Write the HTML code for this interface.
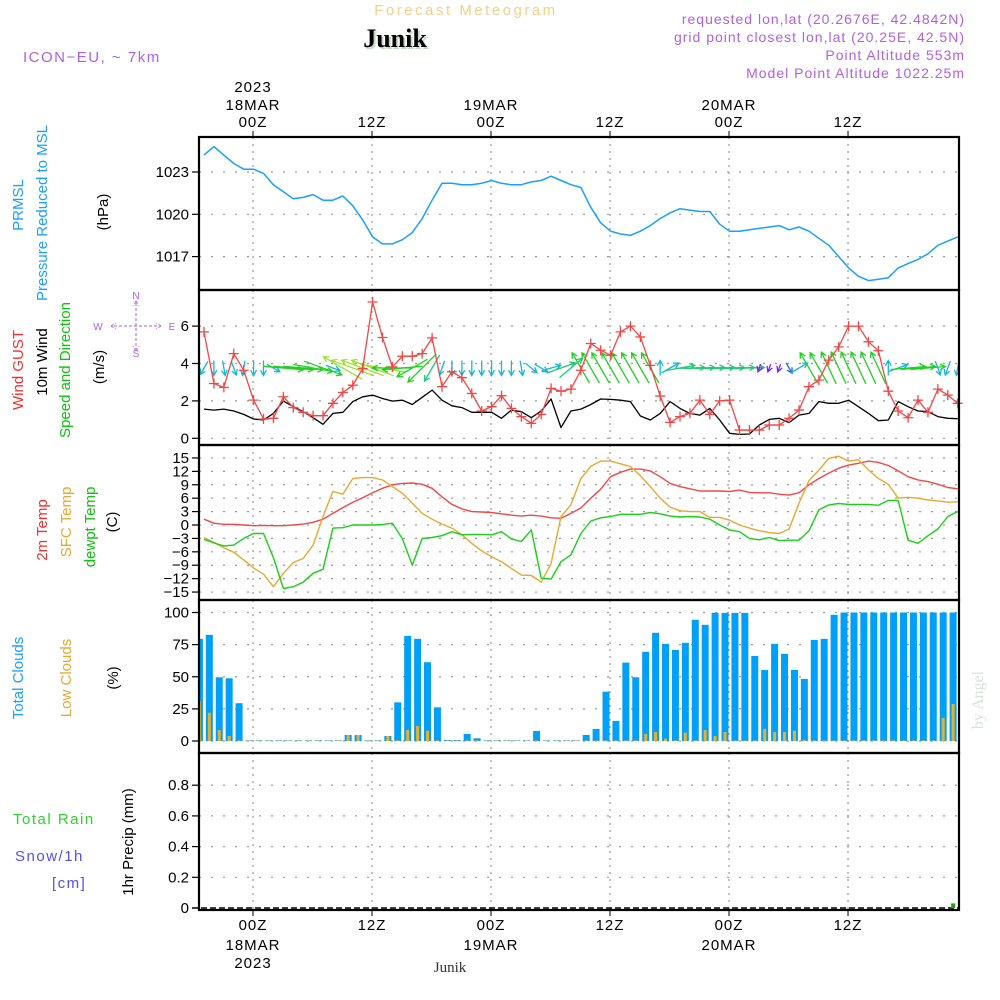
<!DOCTYPE html>
<html><head><meta charset="utf-8"><style>
html,body{margin:0;padding:0;background:#fff;}
svg{display:block;font-family:"Liberation Sans",sans-serif;}
</style></head><body>
<svg id="chart" width="1000" height="1000" viewBox="0 0 1000 1000" xmlns="http://www.w3.org/2000/svg">
<g>
<text x="466" y="15" font-size="15" fill="#f5cf8a" text-anchor="middle" letter-spacing="2.5">Forecast Meteogram</text>
<text x="397" y="49" font-size="26" font-weight="bold" font-family="Liberation Serif,serif" fill="#c8d8c8" text-anchor="middle">Junik</text>
<text x="395" y="47" font-size="26" font-weight="bold" font-family="Liberation Serif,serif" fill="#000" text-anchor="middle">Junik</text>
<text x="23" y="62" font-size="15" fill="#b060e0" letter-spacing="1.5">ICON−EU, ~ 7km</text>
<text x="965" y="24" font-size="14" fill="#b060e0" text-anchor="end" letter-spacing="1">requested lon,lat (20.2676E, 42.4842N)</text>
<text x="965" y="42" font-size="14" fill="#b060e0" text-anchor="end" letter-spacing="1">grid point closest lon,lat (20.25E, 42.5N)</text>
<text x="965" y="60" font-size="14" fill="#b060e0" text-anchor="end" letter-spacing="1">Point Altitude 553m</text>
<text x="965" y="78" font-size="14" fill="#b060e0" text-anchor="end" letter-spacing="1">Model Point Altitude 1022.25m</text>
</g>
<g id="labels" font-size="15">
<text transform="translate(23,205) rotate(-90)" fill="#1a9fff" text-anchor="middle">PRMSL</text>
<text transform="translate(47,213) rotate(-90)" fill="#1a9fff" text-anchor="middle">Pressure Reduced to MSL</text>
<text transform="translate(108,212) rotate(-90)" fill="#000" text-anchor="middle">(hPa)</text>
<text transform="translate(23,370) rotate(-90)" fill="#f03030" text-anchor="middle">Wind GUST</text>
<text transform="translate(47,362) rotate(-90)" fill="#000" text-anchor="middle">10m Wind</text>
<text transform="translate(70,370) rotate(-90)" fill="#10c010" text-anchor="middle">Speed and Direction</text>
<text transform="translate(104,367) rotate(-90)" fill="#000" text-anchor="middle">(m/s)</text>
<text transform="translate(47,530) rotate(-90)" fill="#f03030" text-anchor="middle">2m Temp</text>
<text transform="translate(71,522) rotate(-90)" fill="#e8a830" text-anchor="middle">SFC Temp</text>
<text transform="translate(95,527) rotate(-90)" fill="#10c010" text-anchor="middle">dewpt Temp</text>
<text transform="translate(117,522) rotate(-90)" fill="#000" text-anchor="middle">(C)</text>
<text transform="translate(23,678) rotate(-90)" fill="#1a9fff" text-anchor="middle">Total Clouds</text>
<text transform="translate(71,678) rotate(-90)" fill="#e8a830" text-anchor="middle">Low Clouds</text>
<text transform="translate(118,678) rotate(-90)" fill="#000" text-anchor="middle">(%)</text>
<text transform="translate(133,842) rotate(-90)" fill="#000" text-anchor="middle">1hr Precip (mm)</text>
<text x="13" y="824" fill="#30d030" letter-spacing="1.5">Total   Rain</text>
<text x="15" y="861" fill="#5050f0" letter-spacing="1.5">Snow/1h</text>
<text x="52" y="888" fill="#5050f0" letter-spacing="1.5">[cm]</text>
<text transform="translate(983,700) rotate(-90)" fill="#d8e4d8" font-family="Liberation Serif,serif" text-anchor="middle" font-size="16">by Angel</text>
</g>
<g id="compass" fill="#b060e0" stroke="#b060e0" font-size="10">
<text x="136" y="299" text-anchor="middle" stroke="none">N</text>
<text x="136" y="357" text-anchor="middle" stroke="none">S</text>
<text x="98" y="330" text-anchor="middle" stroke="none">W</text>
<text x="172" y="330" text-anchor="middle" stroke="none">E</text>
<path d="M136 303V349M114 326H158M111 326l5-3M111 326l5 3M161 326l-5-3M161 326l-5 3M136 301l-3 5M136 301l3 5M136 351l-3-5M136 351l3-5" fill="none" stroke-width="1" stroke-dasharray="3 2"/>
</g>
<g id="plot"></g>
</svg>
<script>
const hoursStart = -5;
const dayTicks = [0, 12, 24, 36, 48, 60];
const topTickLabels = ["00Z","12Z","00Z","12Z","00Z","12Z"];
const topDateLabels = ["18MAR","","19MAR","","20MAR",""];
const pressureTicks = [1017, 1020, 1023];
const windTicks = [0, 2, 4, 6];
const tempTicks = [-15,-12,-9,-6,-3,0,3,6,9,12,15];
const cloudTicks = [0, 25, 50, 75, 100];
const precipTicks = [0, 0.2, 0.4, 0.6, 0.8];

const pressure = [1024.2,1024.8,1024.2,1023.6,1023.2,1023.2,1022.9,1022.1,1021.6,1021.1,1021.2,1021.4,1021.0,1021.0,1021.3,1020.6,1019.6,1018.4,1017.9,1017.9,1018.2,1018.7,1019.7,1021.0,1022.2,1022.2,1022.1,1022.1,1022.2,1022.4,1022.2,1022.1,1022.1,1022.3,1022.4,1022.7,1022.4,1022.1,1021.9,1020.5,1019.4,1018.8,1018.6,1018.5,1018.8,1019.2,1019.7,1020.1,1020.4,1020.3,1020.2,1020.2,1019.3,1018.8,1018.8,1018.9,1019.0,1019.1,1019.2,1018.9,1019.1,1018.8,1018.3,1017.8,1017.0,1016.2,1015.6,1015.3,1015.4,1015.5,1016.2,1016.5,1016.8,1017.2,1017.8,1018.1,1018.4];

const windGust = [5.69,2.93,2.72,4.53,3.64,2.04,1.03,1.07,2.22,1.64,1.39,1.21,1.21,1.87,2.45,2.84,3.73,7.29,5.39,3.82,4.39,4.39,4.53,5.37,2.76,3.56,3.24,2.40,1.46,1.69,2.28,1.6,1.16,0.8,1.28,2.67,2.52,2.63,3.64,5.07,4.71,4.44,5.69,6.0,5.42,3.9,2.26,0.85,1.16,1.33,2.04,1.28,2.0,2.04,0.44,0.44,0.44,0.71,0.71,1.07,1.51,2.76,3.11,4.18,4.89,6.0,6.0,5.16,4.68,2.52,1.46,1.1,2.04,1.39,2.63,2.31,1.87];
const windSpeed = [1.56,1.51,1.56,1.46,1.28,1.03,0.98,1.33,1.99,1.69,1.42,1.1,0.75,1.33,1.39,1.96,2.22,2.31,2.13,1.99,2.04,1.81,2.19,2.58,2.04,1.74,1.64,1.39,1.39,1.39,1.07,1.51,1.42,1.1,1.46,2.1,0.57,1.46,1.56,1.81,2.1,2.08,2.04,1.96,1.19,0.98,1.33,1.96,1.6,1.33,1.24,1.6,0.98,0.27,0.21,0.23,0.71,1.01,1.07,0.84,1.24,1.33,1.96,1.87,1.87,2.04,1.69,1.33,0.94,0.98,1.96,1.69,1.46,1.42,1.16,1.07,1.05];
const windDirTo = [210,180,170,160,190,180,180,120,95,95,95,100,110,110,300,290,290,290,280,270,265,240,225,210,200,180,180,180,180,180,180,180,170,130,120,75,70,50,330,330,330,330,330,330,330,330,0,60,80,88,88,88,88,88,88,88,200,200,200,150,60,330,330,335,335,335,335,335,335,0,70,85,85,85,160,200,190];
const windArrow = [1.5,1.5,1.5,1.5,1.5,1.5,1.5,1.5,4,4,4,4,4,1.5,4.5,4.5,4.5,4.5,4.5,4,4,3.5,4,3,1.5,1.5,1.5,1.5,1.5,1.5,1.5,1.5,1.5,1.5,1.5,2,3,3,3.5,3.5,3.5,3.5,3.5,3.5,3.5,3.5,1.5,2,3,3,3,3,3,3,3,3,0.8,0.8,0.8,1.2,2,3.5,3.5,3.5,3.5,3.5,3.5,3.5,3.5,1.5,2,3.5,3.5,3.5,1.5,1.5,1.5];

const temp2m = [1.3,0.4,0.15,0.15,0,-0.15,-0.1,-0.15,-0.15,0,0.2,0.6,1.3,2.6,3.9,5.1,6.1,7.2,8.2,9.0,9.3,9.4,9.1,8.2,6.3,4.6,3.6,3.0,2.9,2.8,2.5,2.2,2.0,2.2,2.0,1.6,1.5,2.6,3.8,6.0,8.0,10.8,11.8,12.5,12.5,12.1,10.8,9.3,8.6,8.1,7.6,7.6,7.6,7.5,7.8,7.3,7.2,7.2,6.9,6.7,7.2,9.0,10.4,11.6,12.7,13.4,13.8,14.3,14.0,13.3,12.1,10.8,10.1,9.7,9.1,8.4,8.1,7.5].slice(0,77);
const tempSfc = [-2.8,-3.9,-5.1,-6.1,-7.8,-9.6,-11.0,-13.8,-10.8,-8.4,-7.5,-4.5,1.9,7.5,6.9,10.4,10.6,10.6,10.1,8.6,7.1,4.9,2.6,1.3,0.2,-0.7,-2.2,-4.1,-5.8,-7.1,-8.2,-9.7,-11.2,-11.3,-12.8,-8.6,1.9,4.5,10.4,13.1,14.3,14.3,13.7,13.1,11.0,8.6,6.0,4.0,3.2,3.0,3.0,1.7,1.7,1.1,0,-0.7,-1.3,-1.7,-1.9,-0.9,4.9,9.9,12.3,14.9,15.4,14.3,14.6,12.3,10.4,9.1,6.0,6.2,6.0,5.6,5.4,5.1,5.2];
const tempDew = [-3.2,-4.0,-4.7,-4.5,-3.0,-1.9,-1.9,-7.3,-14.2,-13.8,-12.8,-10.8,-9.9,-0.7,-0.6,0,0,0,0.1,0.4,-3.1,-9.0,-3.0,-2.8,-2.4,-1.5,-2.2,-2.1,-2.1,-2.2,-1.5,-3.1,-3.7,-1.1,-11.9,-12.1,-8.2,-6.7,-1.9,0.9,1.6,1.9,2.4,2.4,2.4,2.8,2.5,2.0,1.8,1.9,1.8,1.3,0,-1.1,-1.5,-3.0,-3.3,-2.8,-3.5,-3.4,-3.4,-1.3,3.4,4.5,4.8,4.6,4.6,4.6,4.4,5.5,5.5,-3.4,-4.1,-2.4,-0.9,1.9,3.0];

const cloudTotal = [79.5,82.6,49.6,48.8,29.4,0.5,0.5,0.5,0.5,0.5,0.5,0.5,0.5,0.5,0.5,4.7,4.7,0.5,0.5,3.9,30.1,81.8,79.5,61.3,26.2,0.8,0.8,5.5,2.1,0.5,0.5,0.5,0.5,0.5,7.8,0.5,0.5,0.5,0.5,4.7,9.4,38.4,15.6,61,49.6,69.4,84.2,75.6,70.9,76.4,94.3,90.4,99.7,99.7,99.7,99.7,66.2,55.3,75.6,67.8,55.3,48.3,78.7,79.5,98.2,100,100,100,100,100,100,100,100,100,100,100,100];
const cloudLow = [31,22,8.6,3.9,0.5,0.5,0.5,0.5,0.5,0.5,0.5,0.5,0.5,0.5,0.5,4.7,4.7,0.5,0.5,3.9,0.5,8.6,11.7,8,0.5,0.5,0.5,0.5,0.5,0.5,0.5,0.5,0.5,0.5,0.5,0.5,0.5,0.5,0.5,0.5,0.5,0.5,0.5,0.5,0.5,5.5,7,1.8,0.5,6.5,0.5,8.6,3.9,7,0.5,0.5,0.5,9.4,7,7,8,1,0.5,0.5,0.5,0.5,0.5,0.5,0.5,0.5,0.5,0.5,0.5,0.5,0.5,18,28.8];
const precip = new Array(77).fill(0);
precip[76] = 0.03;

const X0 = 199, X1 = 959;
const tX = h => 253 + h * 9.917;
const lineX = i => tX(hoursStart + i) + 0.6;
const barX = i => tX(hoursStart + i) - 4.0;
const panels = {
  p:{top:137,bot:290}, w:{top:290,bot:445}, t:{top:445,bot:600}, c:{top:600,bot:753}, r:{top:753,bot:910}
};
const yP = v => 172 + (1023 - v) * 14.1;
const yW = v => 438.3 - v * 18.7;
const yT = v => 525 - v * 4.47;
const yC = v => 741 - v * 1.285;
const yR = v => 908 - v * 153.5;

const NS = "http://www.w3.org/2000/svg";
const plot = document.getElementById("plot");
function mk(tag, attrs, parent) {
  const e = document.createElementNS(NS, tag);
  for (const k in attrs) e.setAttribute(k, attrs[k]);
  (parent || plot).appendChild(e);
  return e;
}
function grp(name) {
  const g = mk("g", {});
  
  
  return g;
}

const grid = grp("gridlines");
for (const key in panels) {
  const P = panels[key];
  dayTicks.forEach(h => {
    const l = mk("line", {x1:tX(h), x2:tX(h), y1:P.top, y2:P.bot, stroke:"#999", "stroke-width":1.2, "stroke-dasharray":"2 5"}, grid);
    
    
  });
}
function hgrid(ticks, yf, fmt, name) {
  const g = grp(name);
  ticks.forEach(v => {
    const y = yf(v);
    const l = mk("line", {x1:X0, x2:X1, y1:y, y2:y, stroke:"#999", "stroke-width":1.2, "stroke-dasharray":"2 10"}, g);
    
    
    const t = mk("line", {x1:X0-7, x2:X0, y1:y, y2:y, stroke:"#000", "stroke-width":1.2}, g);
    
    
    const tx = mk("text", {x:X0-10, y:y+5, "font-size":15, "text-anchor":"end", fill:"#000"}, g);
    tx.textContent = fmt(v);
    
    
  });
}
hgrid(pressureTicks, yP, v => v, "pressure-y-axis");
hgrid(windTicks, yW, v => v, "wind-y-axis");
hgrid(tempTicks, yT, v => (v < 0 ? "−" + (-v) : v), "temp-y-axis");
hgrid(cloudTicks, yC, v => v, "cloud-y-axis");
hgrid(precipTicks.slice(1), yR, v => v.toFixed(1), "precip-y-axis");
{
  const g = grp("precip-zero");
  const t = mk("text", {x:X0-10, y:yR(0)+5, "font-size":15, "text-anchor":"end"}, g);
  t.textContent = "0";
  
  
  const l = mk("line", {x1:X0-7, x2:X1, y1:yR(0), y2:yR(0), stroke:"#000", "stroke-width":1.5, "stroke-dasharray":"6 3"}, g);
  
  
}

const tax = grp("time-axis");
dayTicks.forEach((h, k) => {
  const x = tX(h);
  const a = mk("text", {x:x, y:127, "font-size":15, "text-anchor":"middle", "letter-spacing":1}, tax);
  a.textContent = topTickLabels[k];
  
  
  const b = mk("text", {x:x, y:930, "font-size":15, "text-anchor":"middle", "letter-spacing":1}, tax);
  b.textContent = topTickLabels[k];
  
  
  mk("line", {x1:x, x2:x, y1:131, y2:137, stroke:"#000"}, tax);
  mk("line", {x1:x, x2:x, y1:910, y2:916, stroke:"#000"}, tax);
  if (topDateLabels[k]) {
    const c = mk("text", {x:x, y:110, "font-size":15, "text-anchor":"middle", "letter-spacing":1}, tax);
    c.textContent = topDateLabels[k];
    
    
    const d = mk("text", {x:x, y:950, "font-size":15, "text-anchor":"middle", "letter-spacing":1}, tax);
    d.textContent = topDateLabels[k];
    
    
  }
});
{
  const y1 = mk("text", {x:tX(0), y:92, "font-size":15, "text-anchor":"middle", "letter-spacing":1}, tax);
  y1.textContent = "2023";
  
  
  const y2 = mk("text", {x:tX(0), y:968, "font-size":15, "text-anchor":"middle", "letter-spacing":1}, tax);
  y2.textContent = "2023";
  
  
  const j = mk("text", {x:450, y:972, "font-size":15, "text-anchor":"middle", "font-family":"Liberation Serif,serif", fill:"#333"}, tax);
  j.textContent = "Junik";
  
  
}

function polyline(arr, xf, yf, color, name, w) {
  const pts = arr.map((v, i) => xf(i).toFixed(1) + "," + yf(v).toFixed(1)).join(" ");
  const p = mk("polyline", {points:pts, fill:"none", stroke:color, "stroke-width":w || 1.4, "stroke-linejoin":"round"});
  
  
  return p;
}

const defs = mk("defs", {});
const cp = mk("clipPath", {id:"clip"}, defs);
mk("rect", {x:X0, y:137, width:X1-X0, height:773}, cp);

polyline(pressure, lineX, yP, "#1a9fff", "pressure-line", 1.5);

const arrows = grp("wind-arrows");
function arrowColor(s) {
  if (s < 1) return "#8020e0";
  if (s < 1.4) return "#2060f0";
  if (s < 2.2) return "#18b8d0";
  if (s < 3.2) return "#20c878";
  if (s < 4.2) return "#20d020";
  return "#a0e030";
}
windDirTo.forEach((d, i) => {
  const cx = lineX(i), cy = 368;
  const L = windArrow[i] * 10;
  const rad = d * Math.PI / 180;
  const dx = Math.sin(rad) * L, dy = -Math.cos(rad) * L;
  const x1 = cx - dx / 2, y1 = cy - dy / 2, x2 = cx + dx / 2, y2 = cy + dy / 2;
  const hl = 6, ha = 0.5;
  const back = Math.atan2(-dy, -dx);
  const hx1 = x2 + hl * Math.cos(back + ha), hy1 = y2 + hl * Math.sin(back + ha);
  const hx2 = x2 + hl * Math.cos(back - ha), hy2 = y2 + hl * Math.sin(back - ha);
  const a = mk("path", {d:`M${x1.toFixed(1)} ${y1.toFixed(1)}L${x2.toFixed(1)} ${y2.toFixed(1)}M${hx1.toFixed(1)} ${hy1.toFixed(1)}L${x2.toFixed(1)} ${y2.toFixed(1)}L${hx2.toFixed(1)} ${hy2.toFixed(1)}`, fill:"none", stroke:arrowColor(windArrow[i]), "stroke-width":1.3, "clip-path":"url(#clip)"}, arrows);
  
  
});

polyline(windSpeed, lineX, yW, "#000", "mean-wind-line", 1.3);
polyline(windGust, lineX, yW, "#f04848", "wind-gust-line", 1.3);
const gm = grp("gust-markers");
windGust.forEach((v, i) => {
  const x = lineX(i), y = yW(v);
  const m = mk("path", {d:`M${x-5} ${y}H${x+5}M${x} ${y-5}V${y+5}`, stroke:"#f04848", "stroke-width":1.3}, gm);
  
  
});

polyline(temp2m, lineX, yT, "#f04848", "2m-temp-line", 1.4);
polyline(tempSfc, lineX, yT, "#e8a830", "sfc-temp-line", 1.4);
polyline(tempDew, lineX, yT, "#18d018", "dewpoint-line", 1.4);

const cb = grp("cloud-bars");
cloudTotal.forEach((v, i) => {
  const x = barX(i);
  const r = mk("rect", {x:x - 3.5, y:yC(v), width:7, height:yC(0) - yC(v), fill:"#00a0f8", "clip-path":"url(#clip)"}, cb);
  
  
});
cloudLow.forEach((v, i) => {
  const x = barX(i);
  const r = mk("rect", {x:x - 1.5, y:yC(v), width:3, height:yC(0) - yC(v), fill:"#e8b030", "clip-path":"url(#clip)"}, cb);
  
  
});

const pb = grp("precip-bars");
precip.forEach((v, i) => {
  if (v <= 0) return;
  const r = mk("rect", {x:barX(i) - 2, y:yR(v), width:4, height:yR(0) - yR(v), fill:"#20a020", "clip-path":"url(#clip)"}, pb);
  
  
});

const fr = grp("panel-frames");
for (const key in panels) {
  const P = panels[key];
  const r = mk("rect", {x:X0, y:P.top, width:X1 - X0, height:P.bot - P.top, fill:"none", stroke:"#000", "stroke-width":2.2}, fr);
  
  
}
</script>
</body></html>
